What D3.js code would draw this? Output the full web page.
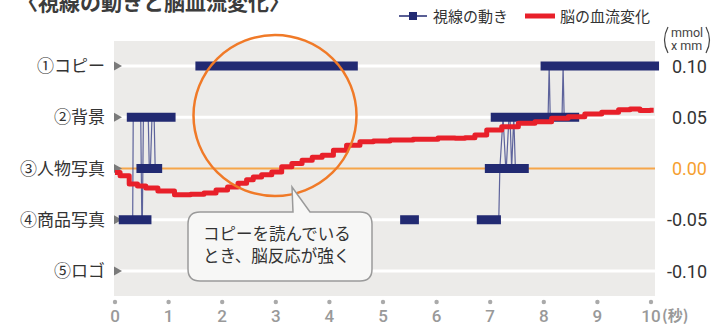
<!DOCTYPE html>
<html><head><meta charset="utf-8">
<script src="https://cdn.jsdelivr.net/npm/d3@7"></script>
<style>
html,body{margin:0;padding:0;background:#fff;}
svg{display:block;}
</style>
</head><body>
<svg id="chart" width="712" height="326"></svg>
<script>
// ---------- data ----------
const title = "〈視線の動きと脳血流変化〉";
const categories = ["①コピー", "②背景", "③人物写真", "④商品写真", "⑤ロゴ"];
const rightTicks = [0.10, 0.05, 0.00, -0.05, -0.10];
const rightTickLabels = ["0.10", "0.05", "0.00", "-0.05", "-0.10"];
const xTicks = [0,1,2,3,4,5,6,7,8,9,10];
const xTickLabels = ["0","1","2","3","4","5","6","7","8","9","10"];
const legendLabels = ["視線の動き", "脳の血流変化"];
const calloutLines = ["コピーを読んでいる", "とき、脳反応が強く"];
const unitLines = ["mmol", "x mm"];

// fixations: [start sec, end sec, category index]
const fixations = [
  [0.07, 0.68, 3],
  [0.22, 1.13, 1],
  [0.40, 0.88, 2],
  [1.50, 4.53, 0],
  [5.32, 5.67, 3],
  [6.75, 7.20, 3],
  [6.90, 7.72, 2],
  [7.01, 8.66, 1],
  [7.94, 10.15, 0]
];
// saccade paths: [sec, category index]
const saccadesA = [[0.33,3],[0.34,1],[0.48,1],[0.50,3],[0.51,3],[0.53,1],[0.62,1],[0.64,2],[0.66,2],[0.69,1],[0.73,1],[0.75,2]];
const saccadesB = [[7.16,3],[7.18,2],[7.24,1],[7.29,2],[7.30,2],[7.35,1],[7.37,1],[7.40,2],[7.44,1],[7.47,2]];
const saccadesC = [[8.08,1],[8.10,0],[8.12,1],[8.34,1],[8.36,0],[8.38,1]];

// blood flow change
const flowSeconds = [0.00,0.19,0.34,0.50,0.65,0.95,1.27,1.55,1.77,2.00,2.20,2.39,2.52,2.64,2.83,3.02,3.20,3.40,3.58,3.78,3.95,4.20,4.44,4.70,4.94,5.32,5.80,6.25,6.44,6.62,6.81,7.06,7.37,7.68,7.99,8.30,8.61,8.92,9.24,9.55,9.67,9.92,10.05];
const flowValues  = [-0.004,-0.007,-0.015,-0.017,-0.019,-0.022,-0.0255,-0.025,-0.024,-0.021,-0.018,-0.0144,-0.011,-0.0082,-0.006,-0.0033,0.0016,0.005,0.0081,0.011,0.013,0.0179,0.0228,0.0261,0.0268,0.0277,0.0285,0.0297,0.0294,0.030,0.0326,0.0375,0.0408,0.0441,0.0457,0.049,0.0506,0.0532,0.0549,0.0572,0.0581,0.0565,0.0569];

// ---------- drawing ----------
const svg = d3.select("#chart");
const JP = "'Noto Sans CJK JP','Noto Sans',sans-serif";
const NUM = "Roboto,'Liberation Sans',sans-serif";

const plot = {left:114, right:655, top:41, bottom:296};
const x = d3.scaleLinear().domain([0,10]).range([115,651]);
const yCat = d3.scalePoint().domain(d3.range(categories.length)).range([66,271]);
const yVal = d3.scaleLinear().domain([-0.10,0.10]).range([271,66]);

// title
svg.append("text").attr("x",17).attr("y",9.5)
  .attr("font-family",JP).attr("font-size",21).attr("font-weight",700)
  .attr("fill","#3c3c3c").text(title);

// legend
const lg = svg.append("g");
lg.append("line").attr("x1",399).attr("x2",427).attr("y1",16).attr("y2",16)
  .attr("stroke","#222a72").attr("stroke-width",1.5);
lg.append("rect").attr("x",409).attr("y",12).attr("width",8).attr("height",8).attr("fill","#222a72");
lg.append("text").attr("x",433).attr("y",21.5).attr("font-family",JP).attr("font-size",15)
  .attr("fill","#333").text(legendLabels[0]);
lg.append("line").attr("x1",525).attr("x2",555).attr("y1",16).attr("y2",16)
  .attr("stroke","#e8202a").attr("stroke-width",5);
lg.append("text").attr("x",560).attr("y",21.5).attr("font-family",JP).attr("font-size",15)
  .attr("fill","#333").text(legendLabels[1]);

// units with tall brackets
svg.append("path").attr("d","M668,27 Q661,40 668,53").attr("fill","none")
  .attr("stroke","#444").attr("stroke-width",1.2);
svg.append("path").attr("d","M706,27 Q713,40 706,53").attr("fill","none")
  .attr("stroke","#444").attr("stroke-width",1.2);
unitLines.forEach((t,i)=>{
  svg.append("text").attr("x",671).attr("y",37+i*13).attr("font-family",NUM).attr("font-size",12.5)
    .attr("fill","#444").text(t);
});

// plot background
svg.append("rect").attr("x",plot.left).attr("y",plot.top)
  .attr("width",plot.right-plot.left).attr("height",plot.bottom-plot.top).attr("fill","#ecebe9");

// gridlines
categories.forEach((c,i)=>{
  svg.append("line").attr("x1",plot.left).attr("x2",plot.right)
    .attr("y1",yCat(i)).attr("y2",yCat(i))
    .attr("stroke", i===2 ? "#f6a64a" : "#ffffff")
    .attr("stroke-width", i===2 ? 2.2 : 3);
});

// left triangles + labels
categories.forEach((c,i)=>{
  const yy = yCat(i);
  svg.append("path").attr("d",`M114,${yy-4.5}L122,${yy}L114,${yy+4.5}Z`).attr("fill","#7a7a7a");
  svg.append("text").attr("x",105).attr("y",yy+6).attr("text-anchor","end")
    .attr("font-family",JP).attr("font-size",17).attr("fill","#333").text(c);
});

// right tick labels
rightTicks.forEach((v,i)=>{
  svg.append("text").attr("x",707).attr("y",yVal(v)+6.5).attr("text-anchor","end")
    .attr("font-family",NUM).attr("font-size",18)
    .attr("fill", v===0 ? "#f6a030" : "#333").text(rightTickLabels[i]);
});

// x axis dots + labels
xTicks.forEach((t,i)=>{
  svg.append("circle").attr("cx",x(t)).attr("cy",302).attr("r",2.2).attr("fill","#aaa");
  svg.append("text").attr("x",x(t)).attr("y",322).attr("text-anchor","middle")
    .attr("font-family",NUM).attr("font-size",17).attr("font-weight",500)
    .attr("fill","#999").text(xTickLabels[i]);
});
svg.append("text").attr("x",x(10)+11).attr("y",321).attr("font-family",JP)
  .attr("font-size",15).attr("font-weight",700).attr("fill","#999").text("(秒)");

// saccades (thin lines)
const sLine = d3.line().x(d=>x(d[0])).y(d=>yCat(d[1]));
[saccadesA, saccadesB, saccadesC].forEach(s=>{
  svg.append("path").attr("d",sLine(s)).attr("fill","none")
    .attr("stroke","#2e3582").attr("stroke-opacity",0.75).attr("stroke-width",1.2);
});

// fixation bars
svg.selectAll("rect.fix").data(fixations).enter().append("rect")
  .attr("class","fix")
  .attr("x",d=>x(d[0])).attr("width",d=>x(d[1])-x(d[0]))
  .attr("y",d=>yCat(d[2])-4.5).attr("height",9)
  .attr("fill","#222a72");

// blood flow line
const flow = flowSeconds.map((t,i)=>[t,flowValues[i]]);
svg.append("path")
  .attr("d", d3.line().x(d=>x(d[0])).y(d=>yVal(d[1])).curve(d3.curveStep)(flow))
  .attr("fill","none").attr("stroke","#e8202a").attr("stroke-width",5)
  .attr("stroke-linejoin","round");

// highlight circle
svg.append("ellipse").attr("cx",275).attr("cy",115.5).attr("rx",81.5).attr("ry",80.5)
  .attr("fill","none").attr("stroke","#f07a28").attr("stroke-width",2.5);

// callout
const bx0=188, by0=212, bx1=372, by1=281, r=12;
const calloutPath = `M${bx0+r},${by0} L293,${by0} L292,187 L310,${by0} L${bx1-r},${by0}
  Q${bx1},${by0} ${bx1},${by0+r} L${bx1},${by1-r} Q${bx1},${by1} ${bx1-r},${by1}
  L${bx0+r},${by1} Q${bx0},${by1} ${bx0},${by1-r} L${bx0},${by0+r} Q${bx0},${by0} ${bx0+r},${by0} Z`;
svg.append("path").attr("d",calloutPath).attr("fill","#f7f7f6")
  .attr("stroke","#9a9a9a").attr("stroke-width",1.5);
calloutLines.forEach((t,i)=>{
  svg.append("text").attr("x",203).attr("y",240+i*22).attr("font-family",JP)
    .attr("font-size",16.5).attr("fill","#333").text(t);
});
</script>
</body></html>
